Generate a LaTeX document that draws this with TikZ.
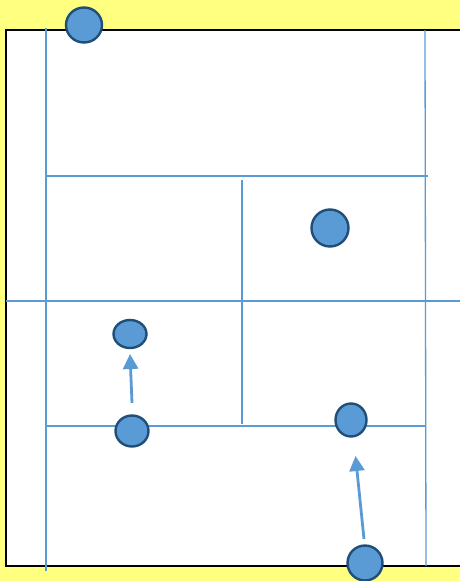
\documentclass[tikz,border=0pt]{standalone}
\usetikzlibrary{arrows.meta,shapes.geometric}
\definecolor{bgyellow}{HTML}{FFFF80}
\definecolor{lineblue}{HTML}{5B9BD5}
\definecolor{dotfill}{HTML}{5B9BD5}
\definecolor{dotedge}{HTML}{1F4E79}
\tikzset{
  courtline/.style={draw=lineblue, line width=1.3pt},
  player/.style={ellipse, draw=dotedge, fill=dotfill, line width=2.4pt, inner sep=0pt},
  move/.style={draw=lineblue, line width=2.8pt, -{Triangle[length=15pt,width=15pt]}},
}
\begin{document}
\begin{tikzpicture}[x=1pt,y=-1pt]
\useasboundingbox (0,0) rectangle (460,581);
\fill[bgyellow] (0,0) rectangle (460,581);
\draw[fill=white, line width=1.3pt] (6,30) rectangle (470,566);
% court lines
\draw[courtline] (46,28) -- (46,571);
\draw[courtline] (425,30) -- (426,566);
\draw[courtline] (46,176) -- (428,176);
\draw[courtline] (242,180) -- (242,424);
\draw[courtline] (6,301) -- (460,301);
\draw[courtline] (46,426) -- (426,426);
% players
\node[player, minimum width=36pt, minimum height=35pt] (p1) at (84,25) {};
\node[player, minimum width=37pt, minimum height=37pt] (p2) at (330,228) {};
\node[player, minimum width=33pt, minimum height=28pt] (p3) at (130,334) {};
\node[player, minimum width=33pt, minimum height=31pt] (p4) at (132,431) {};
\node[player, minimum width=31pt, minimum height=33pt] (p5) at (351,420) {};
\node[player, minimum width=35pt, minimum height=35pt] (p6) at (365,563) {};
% arrows
\coordinate (a1s) at (132,403);
\coordinate (a1e) at (130,354);
\coordinate (a2s) at (364,539);
\coordinate (a2e) at (355.5,456);
\draw[move] (a1s) -- (a1e);
\draw[move] (a2s) -- (a2e);
\end{tikzpicture}
\end{document}
